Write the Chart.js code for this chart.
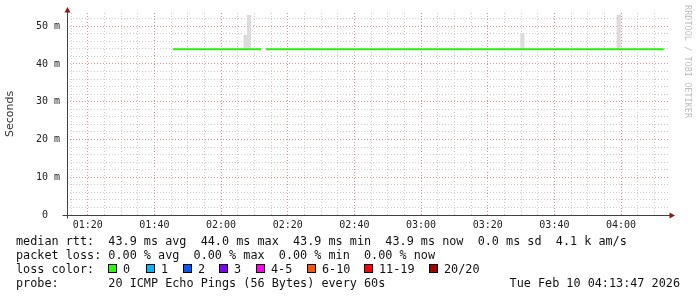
<!DOCTYPE html>
<html>
<head>
<meta charset="utf-8">
<script src="https://cdn.jsdelivr.net/npm/chart.js@4"></script>
<style>
  body { margin: 0; background: #fff; }
  #wrap { position: relative; width: 697px; height: 297px; overflow: hidden; }
  canvas { position: absolute; left: 0; top: 0; }
  .row { position: absolute; left: 16px; font-family: 'DejaVu Sans Mono', monospace; font-size: 11.8px;
         line-height: 14px; color: #111; white-space: pre; }
  .box { position: absolute; width: 7px; height: 7px; border: 1px solid #000; }
  .lbl { position: absolute; font-family: 'DejaVu Sans Mono', monospace; font-size: 11.8px; line-height: 14px; color: #111; white-space: pre; }
  #stamp { position: absolute; right: 17px; top: 276px; font-family: 'DejaVu Sans Mono', monospace;
           font-size: 11.8px; line-height: 14px; color: #111; white-space: pre; }
  #mark { position: absolute; left: 683px; top: 5px; writing-mode: vertical-rl; font-family: 'DejaVu Sans Mono', monospace;
          font-size: 8.4px; color: #bdbdbd; letter-spacing: 0.1px; }
</style>
</head>
<body>
<div id="wrap">
  <canvas id="chart" width="697" height="297"></canvas>
  <div id="mark">RRDTOOL / TOBI OETIKER</div>
  <div class="row" style="top:234px">median rtt:  43.9 ms avg  44.0 ms max  43.9 ms min  43.9 ms now  0.0 ms sd  4.1 k am/s</div>
  <div class="row" style="top:248px">packet loss: 0.00 % avg  0.00 % max  0.00 % min  0.00 % now</div>
  <div class="row" style="top:262px">loss color:</div>
  <div id="legend"></div>
  <div class="row" style="top:276px">probe:       20 ICMP Echo Pings (56 Bytes) every 60s</div>
  <div id="stamp">Tue Feb 10 04:13:47 2026</div>
</div>
<script>
// time axis in minutes since midnight (01:13:47 .. 04:14)
const xMin = 73.78;
const xMax = 254.08;
const yMax = 53.5;

// median rtt (ms); null = no data
const rttTimes = [105.6, 132.0, 132.8, 133.5, 252.8];
const rttValues = [43.9, 43.9, null, 43.9, 43.9];

// smoke: min/max of the pings around the median (ms)
const smokeTimes = [127.33, 128.38, 210.4, 239.3];
const smokeLow = [43.9, 43.9, 43.9, 43.9];
const smokeHigh = [47.6, 52.9, 48.1, 53.0];

// loss colour legend
const lossLabels = ['0', '1', '2', '3', '4-5', '6-10', '11-19', '20/20'];
const lossColors = ['#26ff00', '#00b8ff', '#0059ff', '#7e00ff', '#ff00ea', '#ff5500', '#ff0000', '#a10000'];
const lossX = [108, 146, 183, 219, 256, 307, 364, 429];

const legend = document.getElementById('legend');
lossLabels.forEach((l, i) => {
    const b = document.createElement('div');
    b.className = 'box';
    b.style.left = lossX[i] + 'px';
    b.style.top = '264px';
    b.style.background = lossColors[i];
    legend.appendChild(b);
    const t = document.createElement('div');
    t.className = 'lbl';
    t.style.left = (lossX[i] + 15) + 'px';
    t.style.top = '262px';
    t.textContent = l;
    legend.appendChild(t);
});

function hhmm(v) {
    const h = Math.floor(v / 60), m = Math.round(v % 60);
    return String(h).padStart(2, '0') + ':' + String(m).padStart(2, '0');
}

const majorGrid = 'rgb(228,145,145)';
const minorGrid = '#cccccc';

// Axis lines with arrow heads, rrdtool style
const axisArrows = {
    id: 'axisArrows',
    afterDraw(chart) {
        const { ctx, chartArea: a } = chart;
        const l = Math.round(a.left) + 0.5, b = Math.round(a.bottom) + 0.5;
        ctx.save();
        ctx.strokeStyle = '#404040';
        ctx.lineWidth = 1;
        ctx.beginPath();
        ctx.moveTo(l, b + 3); ctx.lineTo(l, a.top - 3);
        ctx.moveTo(l - 5, b); ctx.lineTo(a.right + 2, b);
        ctx.stroke();
        ctx.fillStyle = '#8b1a1a';
        ctx.beginPath();
        ctx.moveTo(l, a.top - 6); ctx.lineTo(l - 3, a.top - 0.5); ctx.lineTo(l + 3, a.top - 0.5);
        ctx.fill();
        ctx.beginPath();
        ctx.moveTo(a.right + 7, b); ctx.lineTo(a.right + 1.5, b - 3); ctx.lineTo(a.right + 1.5, b + 3);
        ctx.fill();
        ctx.restore();
    }
};

const ctx = document.getElementById('chart').getContext('2d');
new Chart(ctx, {
    type: 'line',
    data: {
        datasets: [
            {
                label: 'median rtt',
                data: rttTimes.map((t, i) => ({ x: t, y: rttValues[i] })),
                borderColor: '#2aee10',
                borderWidth: 2,
                pointRadius: 0,
                spanGaps: false,
                order: 0
            },
            {
                type: 'bar',
                label: 'smoke',
                data: smokeTimes.map((t, i) => ({ x: t, y: [smokeLow[i], smokeHigh[i]] })),
                backgroundColor: '#dcdcdc',
                borderWidth: 0,
                barThickness: 3.6,
                grouped: false,
                order: 1
            }
        ]
    },
    options: {
        responsive: false,
        animation: false,
        layout: { padding: { left: 0, top: 13, right: 29, bottom: 0 } },
        plugins: { legend: { display: false }, tooltip: { enabled: false } },
        scales: {
            x: {
                type: 'linear',
                min: xMin,
                max: xMax,
                offset: false,
                afterFit: s => { s.height = 82; },
                grid: {
                    offset: false,
                    drawTicks: false,
                    color: c => (c.tick && Math.round(c.tick.value) % 20 === 0) ? majorGrid : minorGrid
                },
                border: { display: false, dash: [1, 2] },
                ticks: {
                    stepSize: 5,
                    includeBounds: false,
                    autoSkip: false,
                    maxRotation: 0,
                    padding: 4,
                    color: '#222',
                    font: { family: 'DejaVu Sans Mono', size: 10 },
                    callback: v => (Math.round(v) % 20 === 0 ? hhmm(v) : '')
                }
            },
            y: {
                min: 0,
                max: yMax,
                afterFit: s => { s.width = 67; },
                grid: {
                    drawTicks: false,
                    color: c => (c.tick && c.tick.value === 0) ? 'rgba(0,0,0,0)' :
                        (c.tick && Math.round(c.tick.value) % 10 === 0) ? majorGrid : minorGrid
                },
                border: { display: false, dash: [1, 2] },
                title: {
                    display: true,
                    text: 'Seconds',
                    color: '#333',
                    font: { family: 'DejaVu Sans', size: 11 }
                },
                ticks: {
                    stepSize: 2,
                    includeBounds: false,
                    autoSkip: false,
                    padding: 7,
                    color: '#222',
                    font: { family: 'DejaVu Sans Mono', size: 10 },
                    callback: v => {
                        if (Math.round(v) % 10 !== 0) return '';
                        return v === 0 ? '0  ' : v + ' m';
                    }
                }
            }
        }
    },
    plugins: [axisArrows]
});
</script>
</body>
</html>
